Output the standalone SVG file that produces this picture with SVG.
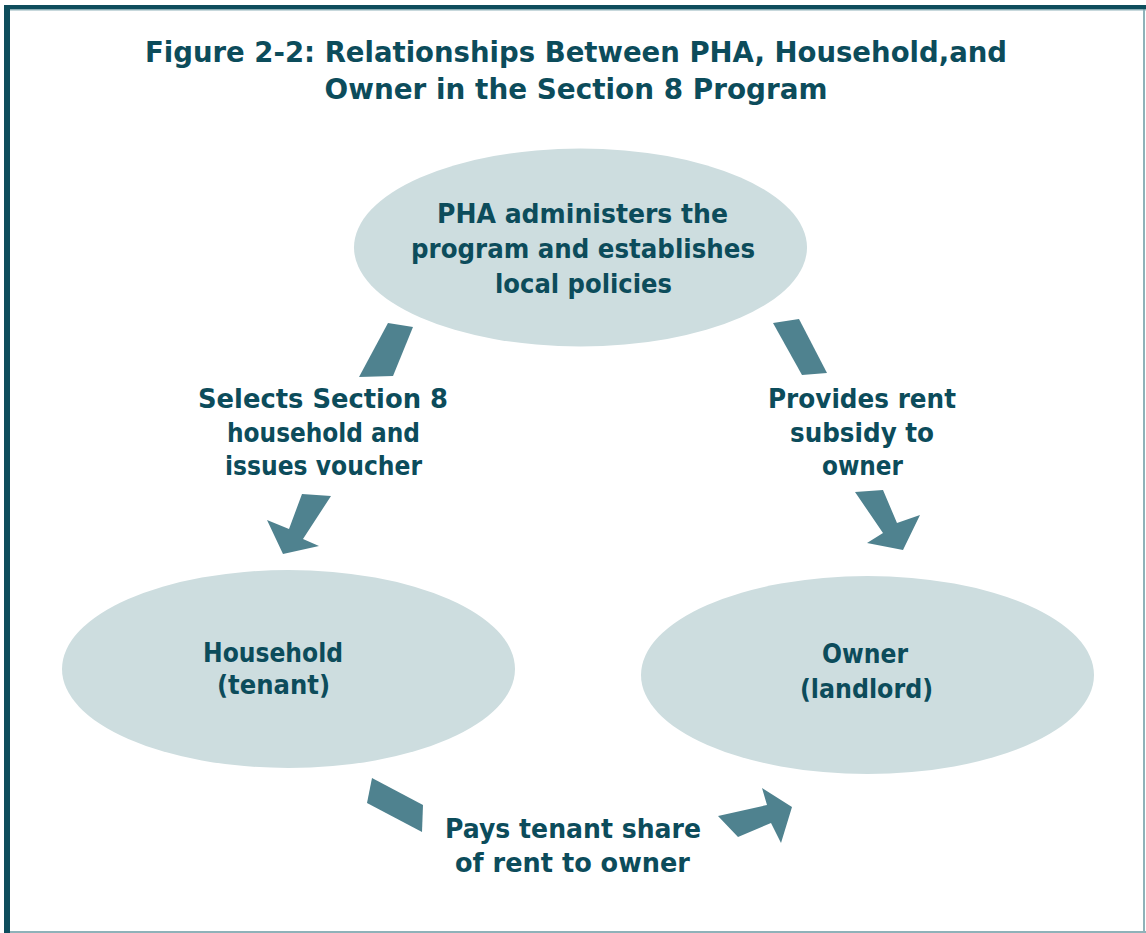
<svg xmlns="http://www.w3.org/2000/svg" width="1146" height="933" viewBox="0 0 1146 933">
<style>
.t{font-family:"DejaVu Sans","Liberation Sans",sans-serif;font-weight:bold;fill:#0c4c5b;text-anchor:middle;}
.title{font-size:29px;}
.lbl{font-size:26px;}
.node{fill:#cddddf;}
.arr{fill:#4f828f;}
</style>
<rect x="0" y="0" width="1146" height="933" fill="#ffffff"/>
<g id="frame">
<line x1="1144" y1="8" x2="1144" y2="933" stroke="#8fb2b9" stroke-width="2"/>
<line x1="6" y1="932" x2="1146" y2="932" stroke="#8fb2b9" stroke-width="2"/>
<rect x="4" y="5" width="1142" height="4.5" fill="#0e4d5c"/>
<line x1="10" y1="10" x2="1146" y2="10" stroke="#8fb2b9" stroke-width="1"/>
<rect x="4" y="5" width="6" height="928" fill="#0e4d5c"/>
</g>
<g id="title">
<text class="t title" x="576" y="62" textLength="862" lengthAdjust="spacingAndGlyphs">Figure 2-2: Relationships Between PHA, Household,and</text>
<text class="t title" x="576" y="99" textLength="503" lengthAdjust="spacingAndGlyphs">Owner in the Section 8 Program</text>
</g>
<g id="pha">
<ellipse class="node" cx="580.5" cy="247.5" rx="226.5" ry="99"/>
<text class="t lbl" x="582.5" y="223" textLength="291" lengthAdjust="spacingAndGlyphs">PHA administers the</text>
<text class="t lbl" x="583" y="258" textLength="344" lengthAdjust="spacingAndGlyphs">program and establishes</text>
<text class="t lbl" x="583.5" y="293" textLength="177" lengthAdjust="spacingAndGlyphs">local policies</text>
</g>
<g id="household">
<ellipse class="node" cx="288.5" cy="669" rx="226.5" ry="99"/>
<text class="t lbl" x="273" y="662" textLength="140" lengthAdjust="spacingAndGlyphs">Household</text>
<text class="t lbl" x="273.5" y="694" textLength="113" lengthAdjust="spacingAndGlyphs">(tenant)</text>
</g>
<g id="owner">
<ellipse class="node" cx="867.5" cy="675" rx="226.5" ry="99"/>
<text class="t lbl" x="865" y="663" textLength="86" lengthAdjust="spacingAndGlyphs">Owner</text>
<text class="t lbl" x="866.5" y="698" textLength="133" lengthAdjust="spacingAndGlyphs">(landlord)</text>
</g>
<g id="connectors">
<polygon class="arr" points="388,323 413,327 393,376 359,377"/>
<polygon class="arr" points="302,494 331,496 303,539 319,546 283,554 267,520 289,529"/>
<polygon class="arr" points="773,323 799,319 827,373 802,375"/>
<polygon class="arr" points="855,492 883,490 897,523 920,515 903,550 867,543 883,533"/>
<polygon class="arr" points="372,778 423,805 422,832 367,803"/>
<polygon class="arr" points="718,816 767,805 762,788 792,807 781,843 771,823 738,837"/>
<text class="t lbl" x="323" y="408" textLength="250" lengthAdjust="spacingAndGlyphs">Selects Section 8</text>
<text class="t lbl" x="323.5" y="442" textLength="193" lengthAdjust="spacingAndGlyphs">household and</text>
<text class="t lbl" x="323.5" y="475" textLength="197" lengthAdjust="spacingAndGlyphs">issues voucher</text>
<text class="t lbl" x="862" y="408" textLength="188" lengthAdjust="spacingAndGlyphs">Provides rent</text>
<text class="t lbl" x="862" y="442" textLength="144" lengthAdjust="spacingAndGlyphs">subsidy to</text>
<text class="t lbl" x="862.5" y="475" textLength="81" lengthAdjust="spacingAndGlyphs">owner</text>
<text class="t lbl" x="573" y="838" textLength="256" lengthAdjust="spacingAndGlyphs">Pays tenant share</text>
<text class="t lbl" x="572.5" y="872" textLength="235" lengthAdjust="spacingAndGlyphs">of rent to owner</text>
</g>
</svg>
